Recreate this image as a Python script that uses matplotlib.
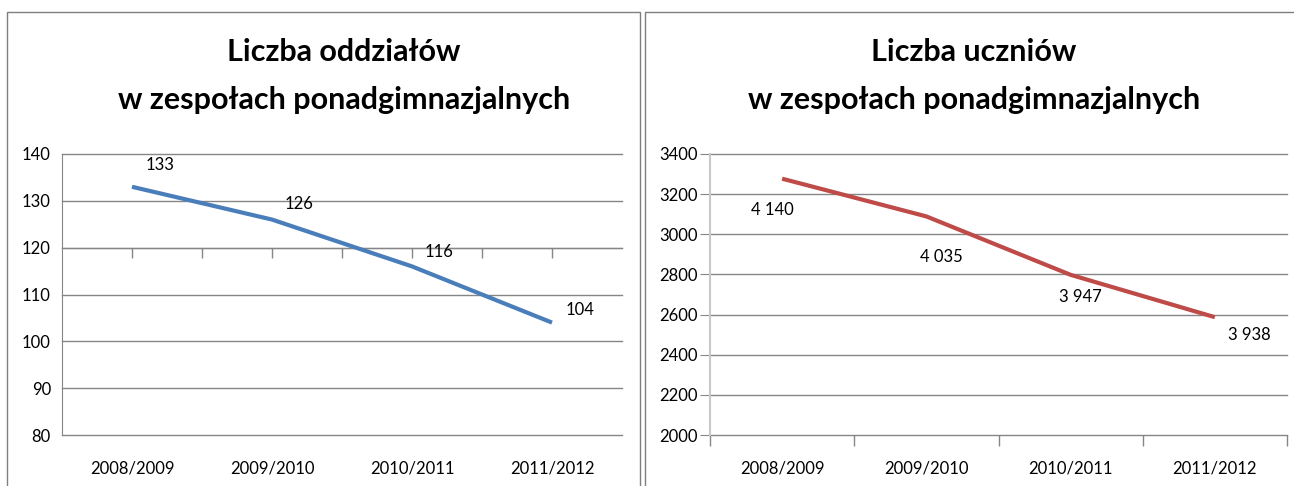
import matplotlib
matplotlib.use("Agg")
import matplotlib.pyplot as plt
import numpy as np
from matplotlib.patches import Rectangle

# ---- data ----
categories = ["2008/2009", "2009/2010", "2010/2011", "2011/2012"]
oddzialy = [133, 126, 116, 104]
oddzialy_labels = ["133", "126", "116", "104"]
uczniowie_line = [3277, 3089, 2798, 2587]
uczniowie_labels = ["4 140", "4 035", "3 947", "3 938"]
left_title = ["Liczba oddziałów", "w zespołach ponadgimnazjalnych"]
right_title = ["Liczba uczniów", "w zespołach ponadgimnazjalnych"]
left_yticks = [80, 90, 100, 110, 120, 130, 140]
right_yticks = [2000, 2200, 2400, 2600, 2800, 3000, 3200, 3400]

FONT = ["Lato", "DejaVu Sans"]
plt.rcParams["font.family"] = FONT

W, H = 1294, 486
fig = plt.figure(figsize=(W / 100, H / 100), dpi=100)
fig.patch.set_facecolor("white")

def fx(px):
    return px / W

def fy(py):
    return 1 - py / H

GRID = "#868686"
x = np.arange(len(categories))

# frames
fig.add_artist(Rectangle((fx(7), fy(500)), fx(640 - 7), fy(12) - fy(500),
                         transform=fig.transFigure, fill=False, ec="#7f7f7f", lw=1.0))
fig.add_artist(Rectangle((fx(645), fy(500)), fx(700), fy(12) - fy(500),
                         transform=fig.transFigure, fill=False, ec="#7f7f7f", lw=1.0))

def titles(lines, cx):
    for line, py in zip(lines, [52, 100]):
        fig.text(fx(cx), fy(py), line, ha="center", va="center",
                 fontsize=22, fontweight="bold")

# ---------- left chart ----------
axL = fig.add_axes([fx(62), fy(435), fx(622 - 62), fy(154) - fy(435)])
axL.plot(x, oddzialy, color="#4A7EBB", lw=3.0, solid_capstyle="butt", zorder=3)
axL.set_xlim(-0.5, len(categories) - 0.5)
axL.set_ylim(min(left_yticks), max(left_yticks))
axL.set_yticks(left_yticks)
axL.yaxis.grid(True, color=GRID, lw=1.0)
axL.set_axisbelow(True)
for s in ["top", "right", "bottom"]:
    axL.spines[s].set_visible(False)
axL.spines["left"].set_color(GRID)
axL.tick_params(axis="y", length=0, labelsize=12, pad=8)
axL.set_xticks(x)
axL.set_xticklabels(categories, fontsize=12)
axL.tick_params(axis="x", length=0, pad=18)
for gl in axL.get_ygridlines():
    gl.set_clip_on(False)
# axis crossing at 120 with upward tick marks
cross = (120 - min(left_yticks)) / (max(left_yticks) - min(left_yticks))
sec = axL.secondary_xaxis(cross)
sec.set_xticks(np.arange(0, len(categories) - 0.5, 0.5))
sec.set_xticklabels([])
sec.tick_params(direction="in", length=7, color=GRID, width=1)
sec.spines["bottom"].set_visible(False)

left_offsets = [(28, 22), (27, 16), (27, 14), (28, 13)]
for xi, v, lab, off in zip(x, oddzialy, oddzialy_labels, left_offsets):
    axL.annotate(lab, (xi, v), xytext=(off[0], off[1]), textcoords="offset pixels",
                 ha="center", va="center", fontsize=12)

titles(left_title, 344)

# ---------- right chart ----------
axR = fig.add_axes([fx(710), fy(435), fx(1287 - 710), fy(154) - fy(435)])
axR.plot(x, uczniowie_line, color="#BE4B48", lw=3.0, solid_capstyle="butt", zorder=3)
axR.set_xlim(-0.5, len(categories) - 0.5)
axR.set_ylim(min(right_yticks), max(right_yticks))
axR.set_yticks(right_yticks)
axR.yaxis.grid(True, color=GRID, lw=1.0)
axR.set_axisbelow(True)
for s in ["top", "right"]:
    axR.spines[s].set_visible(False)
axR.spines["left"].set_color("#c8c8c8")
axR.spines["left"].set_linewidth(1.5)
axR.spines["bottom"].set_visible(False)
axR.tick_params(axis="y", length=7, color=GRID, labelsize=12, pad=2)
axR.set_xticks(x)
axR.set_xticklabels(categories, fontsize=12)
axR.set_xticks(np.arange(-0.5, len(categories), 1.0), minor=True)
axR.tick_params(axis="x", which="major", length=0, pad=18)
axR.tick_params(axis="x", which="minor", length=8, color=GRID, width=1)
for gl in axR.get_ygridlines():
    gl.set_clip_on(False)

right_offsets = [(-10, -31), (15, -41), (10, -22), (34, -18)]
for xi, v, lab, off in zip(x, uczniowie_line, uczniowie_labels, right_offsets):
    axR.annotate(lab, (xi, v), xytext=(off[0], off[1]), textcoords="offset pixels",
                 ha="center", va="center", fontsize=12)

titles(right_title, 974)

fig.savefig("out.png", dpi=100, facecolor="white")
